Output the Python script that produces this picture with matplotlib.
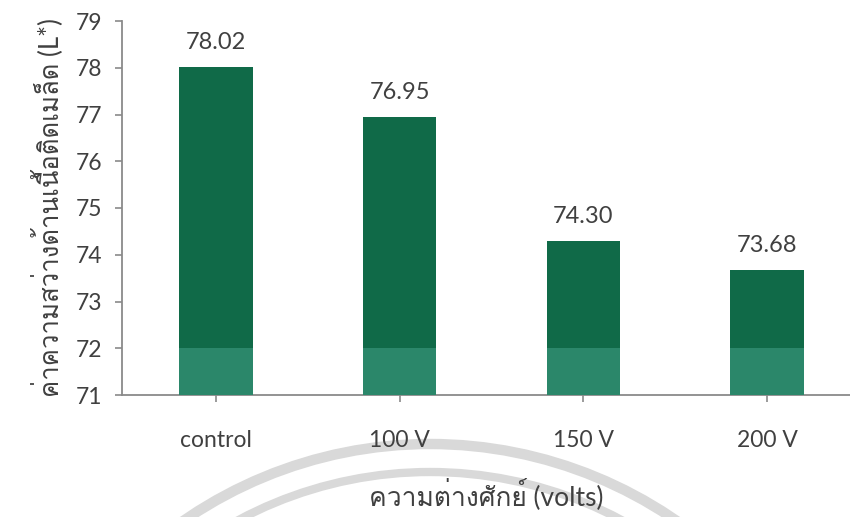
import matplotlib
matplotlib.use("Agg")
import matplotlib.pyplot as plt
from matplotlib import font_manager
from matplotlib.ft2font import FT2Font
from matplotlib.patches import Circle

categories = ['control', '100 V', '150 V', '200 V']
values = [78.02, 76.95, 74.30, 73.68]
value_labels = ['78.02', '76.95', '74.30', '73.68']
y_ticks = [71, 72, 73, 74, 75, 76, 77, 78, 79]
x_title = 'ความต่างศักย์ (volts)'
y_title = 'ค่าความสว่างด้านเนื้อติดเมล็ด (L*)'


def find_thai_font():
    # look for any installed font that actually has Thai glyphs
    for f in font_manager.fontManager.ttflist:
        try:
            cmap = FT2Font(f.fname).get_charmap()
        except Exception:
            continue
        if ord('ค') in cmap and ord('ศ') in cmap:
            return f.name
    return 'DejaVu Sans'


thai = find_thai_font()
plt.rcParams['font.family'] = ['Lato', thai, 'DejaVu Sans']

text_col = '#404040'
axis_col = '#8a8a8a'
dark_green = '#106a48'
light_green = '#2b876a'

fig = plt.figure(figsize=(8.5, 5.17), dpi=100)

# faint watermark arcs (seal in the scanned page), behind everything
for r, lw in [(4.34, 7.5), (4.06, 6)]:
    c = Circle((4.30, (517 - 878) / 100), r, transform=fig.dpi_scale_trans,
               fill=False, edgecolor='#d9d9d9', linewidth=lw, zorder=-1)
    fig.patches.append(c)

ax = fig.add_axes([122 / 850, 1 - 395 / 517, 728 / 850, 374 / 517])
ax.patch.set_alpha(0)
ax.set_zorder(1)

x = list(range(len(categories)))
ax.bar(x, values, width=0.40, color=dark_green, zorder=2)
# lower part of each bar appears lighter in the scan
low = [min(v, 72) for v in values]
ax.bar(x, low, width=0.40, color=light_green, zorder=3)

for xi, v, lab in zip(x, values, value_labels):
    ax.annotate(lab, (xi, v), xytext=(0, 10), textcoords='offset points',
                ha='center', va='bottom', fontsize=17, color=text_col)

ax.set_xlim(-0.512, 3.451)
ax.set_ylim(71, 79)
ax.set_yticks(y_ticks)
ax.set_xticks(x)
ax.set_xticklabels(categories)

for s in ['top', 'right']:
    ax.spines[s].set_visible(False)
for s in ['left', 'bottom']:
    ax.spines[s].set_color(axis_col)
    ax.spines[s].set_linewidth(1.3)

ax.tick_params(axis='y', length=5, width=1.2, color=axis_col, labelsize=16.5,
               labelcolor=text_col, pad=9)
ax.tick_params(axis='x', length=5, width=1.2, color=axis_col, labelsize=16.5,
               labelcolor=text_col, pad=20)

ax.set_xlabel(x_title, fontsize=19, color=text_col, labelpad=20)
ax.set_ylabel(y_title, fontsize=18.5, color=text_col, labelpad=9)

fig.savefig('out.png', dpi=100)
